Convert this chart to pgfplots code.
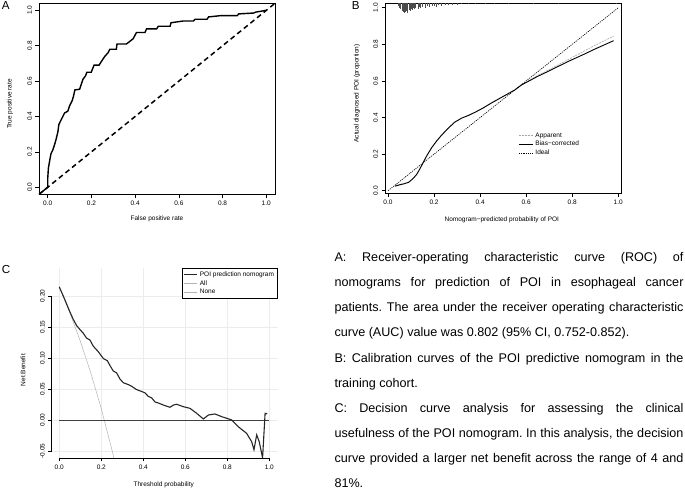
\documentclass[border=0pt]{standalone}
\usepackage{fontspec}
\setmainfont{Liberation Sans}
\usepackage{pgfplots}
\usepackage{pgfplotstable}
\pgfplotsset{compat=1.18}
\newcommand{\smallfont}{\fontsize{6.5}{7.5}\selectfont}

\pgfplotstableread{
x y
-0.04 -0.04
0.000 0.000
0.000 0.050
0.003 0.108
0.011 0.165
0.015 0.190
0.023 0.210
0.031 0.240
0.038 0.270
0.046 0.310
0.051 0.355
0.061 0.380
0.069 0.400
0.077 0.420
0.092 0.430
0.100 0.460
0.112 0.490
0.118 0.515
0.124 0.550
0.146 0.554
0.153 0.580
0.161 0.610
0.173 0.630
0.179 0.650
0.199 0.650
0.212 0.690
0.235 0.690
0.245 0.710
0.261 0.740
0.276 0.760
0.284 0.780
0.314 0.780
0.317 0.810
0.360 0.810
0.376 0.825
0.391 0.840
0.406 0.875
0.445 0.875
0.452 0.895
0.498 0.895
0.506 0.910
0.560 0.910
0.564 0.930
0.621 0.940
0.667 0.940
0.675 0.950
0.729 0.950
0.736 0.963
0.790 0.970
0.867 0.970
0.874 0.980
0.943 0.985
0.951 0.990
1.000 1.000
}\roc

\pgfplotstableread{
x y
0.030 0.025
0.050 0.032
0.070 0.038
0.090 0.046
0.110 0.068
0.125 0.090
0.140 0.123
0.155 0.160
0.170 0.195
0.190 0.236
0.210 0.270
0.230 0.300
0.260 0.340
0.290 0.375
0.320 0.397
0.350 0.412
0.380 0.430
0.410 0.450
0.450 0.480
0.500 0.515
0.550 0.550
0.580 0.578
0.650 0.625
0.700 0.655
0.780 0.705
0.850 0.745
0.900 0.775
0.980 0.820
}\biascorr

\pgfplotstableread{
x y
0.030 0.030
0.050 0.034
0.070 0.040
0.090 0.048
0.110 0.068
0.125 0.090
0.140 0.122
0.155 0.158
0.170 0.193
0.190 0.234
0.210 0.268
0.230 0.298
0.260 0.338
0.290 0.373
0.320 0.396
0.350 0.411
0.380 0.430
0.410 0.450
0.450 0.481
0.500 0.516
0.550 0.552
0.580 0.578
0.650 0.630
0.700 0.662
0.780 0.715
0.850 0.762
0.900 0.795
0.980 0.845
}\apparent

\pgfplotstableread{
x y v
0.045 1.026 -0.016
0.050 1.026 -0.027
0.055 1.026 -0.033
0.060 1.026 -0.044
0.065 1.026 -0.049
0.070 1.026 -0.055
0.075 1.026 -0.049
0.080 1.026 -0.044
0.085 1.026 -0.055
0.090 1.026 -0.038
0.095 1.026 -0.044
0.100 1.026 -0.033
0.105 1.026 -0.038
0.110 1.026 -0.027
0.115 1.026 -0.033
0.120 1.026 -0.027
0.130 1.026 -0.033
0.135 1.026 -0.022
0.140 1.026 -0.027
0.150 1.026 -0.022
0.160 1.026 -0.027
0.170 1.026 -0.016
0.180 1.026 -0.022
0.190 1.026 -0.016
0.200 1.026 -0.016
0.210 1.026 -0.022
0.220 1.026 -0.011
0.230 1.026 -0.016
0.250 1.026 -0.011
0.260 1.026 -0.011
0.280 1.026 -0.011
0.300 1.026 -0.011
0.320 1.026 -0.008
0.350 1.026 -0.008
0.380 1.026 -0.008
0.420 1.026 -0.008
0.460 1.026 -0.008
0.520 1.026 -0.008
0.630 1.026 -0.008
0.740 1.026 -0.008
0.990 1.026 -0.008
}\rug

\pgfplotstableread{
x y
0.000 0.2146
0.019 0.200
0.035 0.187
0.051 0.174
0.067 0.162
0.083 0.152
0.098 0.146
0.114 0.140
0.130 0.132
0.146 0.129
0.162 0.119
0.186 0.110
0.210 0.099
0.229 0.0955
0.241 0.088
0.257 0.079
0.273 0.076
0.289 0.066
0.305 0.060
0.329 0.057
0.344 0.0544
0.368 0.049
0.392 0.046
0.408 0.0437
0.424 0.038
0.440 0.0356
0.456 0.029
0.471 0.0275
0.496 0.024
0.527 0.0205
0.543 0.024
0.559 0.0253
0.590 0.0215
0.622 0.0188
0.654 0.0108
0.686 0.0016
0.710 0.008
0.741 0.0097
0.773 0.0054
0.821 0.000
0.852 -0.0108
0.892 -0.0215
0.916 -0.035
0.927 -0.048
0.940 -0.024
0.952 -0.035
0.968 -0.061
0.980 0.0108
0.990 0.0097
}\nomo

\pgfplotstableread{
x y
0.00 0.2146
0.05 0.1733
0.10 0.1273
0.15 0.0760
0.20 0.0183
0.25 -0.0472
0.26 -0.0613
}\treatall

\pgfplotsset{
  rstyle/.style={
    scale only axis,
    axis line style={line width=0.7pt},
    tick align=outside,
    major tick length=3.5pt,
    tick style={black, line width=0.5pt},
    xtick pos=left, ytick pos=left,
    ticklabel style={font=\smallfont},
    label style={font=\smallfont},
    /pgf/number format/assume math mode=true,
    yticklabel style={rotate=90, anchor=south},
    xticklabel style={anchor=north},
  }
}

\begin{document}
\begin{tikzpicture}
\useasboundingbox (0pt,0pt) rectangle (685pt,489pt);

% Panel letters
\node[anchor=base west, inner sep=0pt, font=\fontsize{11.6}{13}\selectfont] at (1.7pt,479pt) {A};
\node[anchor=base west, inner sep=0pt, font=\fontsize{11.6}{13}\selectfont] at (351.7pt,479pt) {B};
\node[anchor=base west, inner sep=0pt, font=\fontsize{11.6}{13}\selectfont] at (1.7pt,215.7pt) {C};

% Panel A
\begin{axis}[rstyle,
  at={(39pt,294.7pt)}, anchor=south west,
  width=236pt, height=191pt,
  xmin=-0.04, xmax=1.04, ymin=-0.04, ymax=1.04,
  xtick={0,0.2,0.4,0.6,0.8,1}, xticklabels={0.0,0.2,0.4,0.6,0.8,1.0},
  ytick={0,0.2,0.4,0.6,0.8,1}, yticklabels={0.0,0.2,0.4,0.6,0.8,1.0},
  xlabel={False positive rate}, ylabel={True positive rate},
  xlabel style={at={(axis description cs:0.5,-0.126)}, anchor=center},
  ylabel style={at={(axis description cs:-0.123,0.473)}, anchor=center},
]
\addplot[black, line width=1.5pt, dash pattern=on 5pt off 3.5pt] coordinates {(-0.04,-0.04) (1.04,1.04)};
\addplot[black, line width=1.4pt] table[x=x,y=y] {\roc};
\end{axis}

% Panel B
\begin{axis}[rstyle,
  at={(385pt,295.7pt)}, anchor=south west,
  width=236pt, height=190.3pt,
  xmin=-0.013, xmax=1.012, ymin=-0.014, ymax=1.026,
  xtick={0,0.2,0.4,0.6,0.8,1}, xticklabels={0.0,0.2,0.4,0.6,0.8,1.0},
  ytick={0,0.2,0.4,0.6,0.8,1}, yticklabels={0.0,0.2,0.4,0.6,0.8,1.0},
  xlabel={Nomogram\textminus predicted probability of POI},
  ylabel={Actual diagnosed POI (proportion)},
  xlabel style={at={(axis description cs:0.495,-0.137)}, anchor=center},
  ylabel style={at={(axis description cs:-0.119,0.525)}, anchor=center},
  legend style={draw=none, fill=none, at={(rel axis cs:0.565,0.33)}, anchor=north west,
    font=\smallfont, inner sep=0pt, row sep=-1.5pt},
  legend cell align=left,
  legend image code/.code={\draw[#1] (0pt,0pt) -- (14pt,0pt);},
]
\addplot[black!70, line width=0.4pt, quiver={u=0, v=\thisrow{v}}, forget plot] table[x=x,y=y] {\rug};
\addplot[gray!70, line width=0.6pt, dash pattern=on 2pt off 1pt] table[x=x,y=y] {\apparent};
\addlegendentry{Apparent}
\addplot[black, line width=0.9pt] table[x=x,y=y] {\biascorr};
\addlegendentry{Bias\textminus corrected}
\addplot[black, line width=0.6pt, dash pattern=on 1.2pt off 1pt] coordinates {(0,0) (1,1)};
\addlegendentry{Ideal}
\end{axis}

% Panel C
\begin{axis}[rstyle,
  at={(51.7pt,31pt)}, anchor=south west,
  width=226pt, height=190pt,
  xmin=-0.036, xmax=1.04, ymin=-0.0613, ymax=0.245,
  axis line style={draw=none},
  clip mode=individual,
  grid=major, grid style={gray!15, line width=0.4pt},
  xtick={0,0.2,0.4,0.6,0.8,1}, xticklabels={0.0,0.2,0.4,0.6,0.8,1.0},
  ytick={-0.05,0,0.05,0.1,0.15,0.2}, yticklabels={-0.05,0.00,0.05,0.10,0.15,0.20},
  xlabel={Threshold probability}, ylabel={Net Benefit},
  xlabel style={at={(axis description cs:0.496,-0.142)}, anchor=center},
  ylabel style={at={(axis description cs:-0.127,0.463)}, anchor=center},
  legend style={draw=black, line width=0.5pt, at={(rel axis cs:1,1)}, anchor=north east,
    font=\smallfont, inner sep=1.5pt, row sep=-1.5pt},
  legend cell align=left,
  legend image code/.code={\draw[#1] (0pt,0pt) -- (13pt,0pt);},
]
\addplot[gray!60, line width=0.5pt, forget plot] table[x=x,y=y] {\treatall};
\addplot[black!75, line width=0.7pt, forget plot] coordinates {(0,0) (1,0)};
\addplot[black!85, line width=1.1pt] table[x=x,y=y] {\nomo};
\addlegendentry{POI prediction nomogram}
\addlegendimage{gray!60, line width=0.5pt}
\addlegendentry{All}
\addlegendimage{gray!60, line width=0.5pt}
\addlegendentry{None}
\draw[black, line width=0.6pt] (axis cs:0,-0.0613) -- (axis cs:1,-0.0613);
\draw[black, line width=0.6pt] (axis cs:-0.036,-0.05) -- (axis cs:-0.036,0.2);
\end{axis}

% Caption text
\node[anchor=base west, inner sep=0pt] at (334.3pt,227.3pt) {%
\begin{minipage}[t]{349pt}
\fontsize{12.6}{25.1}\selectfont\setlength{\parindent}{0pt}\frenchspacing\hyphenpenalty=10000\exhyphenpenalty=10000
A: Receiver-operating characteristic curve (ROC) of\linebreak
nomograms for prediction of POI in esophageal cancer\linebreak
patients. The area under the receiver operating characteristic\linebreak
curve (AUC) value was 0.802 (95\% CI, 0.752-0.852).\par
B: Calibration curves of the POI predictive nomogram in the\linebreak
training cohort.\par
C: Decision curve analysis for assessing the clinical\linebreak
usefulness of the POI nomogram. In this analysis, the decision\linebreak
curve provided a larger net benefit across the range of 4 and\linebreak
81\%.
\end{minipage}};
\end{tikzpicture}
\end{document}
